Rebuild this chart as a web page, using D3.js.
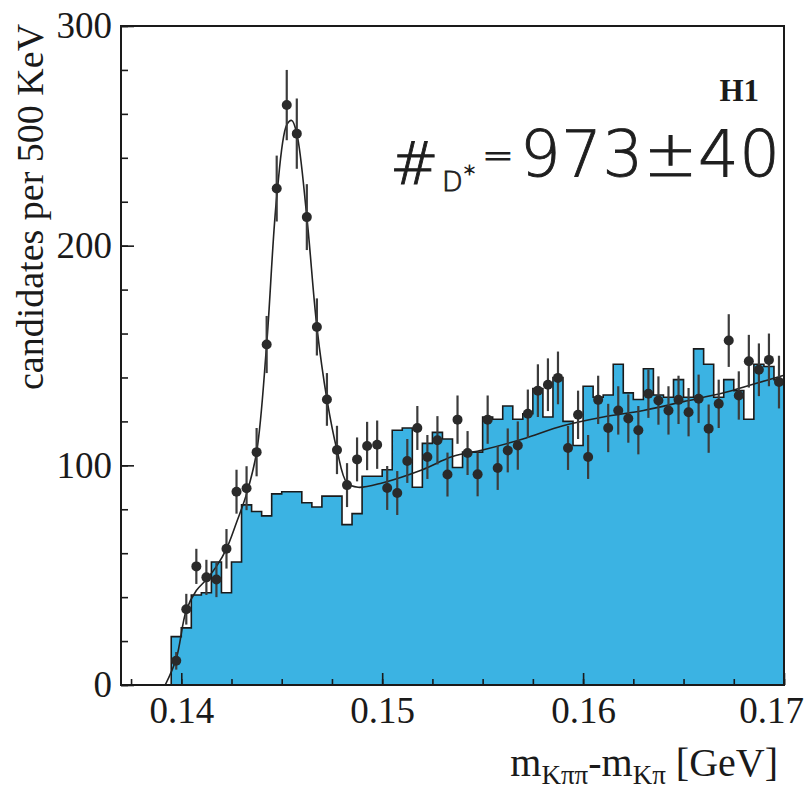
<!DOCTYPE html>
<html>
<head>
<meta charset="utf-8">
<title>D* candidates</title>
<script src="https://d3js.org/d3.v7.min.js"></script>
<style>
  body { margin: 0; background: #fff; }
</style>
</head>
<body>
<div id="chart"></div>
<script>
let w = 809, h = 793;

// bins of 500 KeV, first bin starts at 0.1395 GeV
let binStart = 0.1395;
let binWidth = 0.0005;

// data points (candidates per bin) and their errors
let dataValues = [11, 34.5, 54, 49, 48, 62, 88, 89.6, 106, 155,
                  226, 264, 251, 213, 163, 130, 107, 91, 102.7, 108.8,
                  109.4, 89.7, 87.4, 102, 117, 103.8, 111.4, 95.8, 120.8, 105.6,
                  95.9, 120.8, 98.8, 106.8, 109, 123.5, 134, 136.7, 139.8, 107.9,
                  123, 103.8, 129.8, 117, 125, 121.3, 116, 132.6, 129.5, 125,
                  129.8, 124.2, 130.3, 116.7, 128, 156.8, 131.8, 147.4, 143.5, 148,
                  137.9];
let dataErrors = [4, 7, 8, 8, 8, 9, 10, 10, 11, 13,
                  15, 16, 16, 15, 13, 12, 11, 10, 10, 11,
                  11, 10, 10, 10, 10, 10, 11, 10, 11, 10,
                  10, 11, 10, 10, 11, 11, 12, 12, 12, 10,
                  11, 10, 11, 11, 11, 11, 11, 11, 11, 11,
                  11, 11, 11, 11, 11, 12, 11, 12, 12, 12,
                  12];

// wrong-charge background histogram (blue)
let bgValues = [22, 26, 41, 42, 56, 42, 56, 82, 79, 77,
                87, 88, 88, 83, 81, 86, 86, 73, 78, 95,
                95, 98, 116, 117, 90, 110, 115, 112, 99, 106,
                106, 122, 121, 127, 121, 123.5, 135, 122, 140, 120,
                109, 136, 131, 132, 146, 133, 130, 144, 132, 131,
                139, 131, 153, 146, 131, 139, 134, 121, 146, 145,
                139];

// fit curve
let fitMass = [0.1392, 0.13975, 0.14025, 0.14075, 0.14125, 0.14175, 0.14225, 0.14275, 0.14325, 0.14375,
               0.14425, 0.14475, 0.14525, 0.1455, 0.14575, 0.14625, 0.14675, 0.14725, 0.14775, 0.14825,
               0.1488, 0.150, 0.152, 0.1535, 0.155, 0.157, 0.159, 0.161, 0.163, 0.165,
               0.167, 0.1685, 0.170];
let fitValues = [0, 12, 34, 43, 48, 54, 62, 74, 87, 106,
                 155, 222, 255, 257, 251, 213, 163, 130, 107, 92,
                 90, 92, 98, 104, 107, 112, 118, 122, 125, 129,
                 133, 137, 141];

let xTicks = [0.14, 0.15, 0.16, 0.17];
let xTickLabels = ["0.14", "0.15", "0.16", "0.17"];
let yTicks = [0, 100, 200, 300];
let yTickLabels = ["0", "100", "200", "300"];

let serif = "'Liberation Serif', 'Times New Roman', serif";

let xScale = d3.scaleLinear().domain([0.137, 0.17]).range([121, 784]);
let yScale = d3.scaleLinear().domain([0, 300]).range([685, 26]);

let svg = d3.select("#chart")
            .append("svg")
            .attr("width", w)
            .attr("height", h)
            .style("background", "#fff");

// histogram as steps
let bins = bgValues.map(function(v, i) {
    return {x: binStart + i * binWidth, v: v};
});
bins.push({x: binStart + bgValues.length * binWidth, v: bgValues[bgValues.length - 1]});

let area = d3.area()
    .curve(d3.curveStepAfter)
    .x(function(d) { return xScale(d.x); })
    .y0(yScale(0))
    .y1(function(d) { return yScale(d.v); });

svg.append("path")
    .datum(bins)
    .attr("d", area)
    .attr("fill", "#3bb3e3");

let outline = d3.line()
    .curve(d3.curveStepAfter)
    .x(function(d) { return xScale(d.x); })
    .y(function(d) { return yScale(d.v); });

svg.append("path")
    .datum([{x: binStart, v: 0}].concat(bins))
    .attr("d", outline)
    .attr("fill", "none")
    .attr("stroke", "#1a1a1a")
    .attr("stroke-width", 1.6);

// fit
let fit = fitMass.map(function(m, i) { return [m, fitValues[i]]; });
svg.append("path")
    .datum(fit)
    .attr("d", d3.line()
        .curve(d3.curveCatmullRom.alpha(0.5))
        .x(function(d) { return xScale(d[0]); })
        .y(function(d) { return yScale(d[1]); }))
    .attr("fill", "none")
    .attr("stroke", "#222")
    .attr("stroke-width", 1.6);

// data points with error bars
let points = dataValues.map(function(v, i) {
    return {x: binStart + (i + 0.5) * binWidth, v: v, e: dataErrors[i]};
});

svg.selectAll("line.err")
    .data(points)
    .enter()
    .append("line")
    .attr("class", "err")
    .attr("x1", function(d) { return xScale(d.x); })
    .attr("x2", function(d) { return xScale(d.x); })
    .attr("y1", function(d) { return yScale(d.v - d.e); })
    .attr("y2", function(d) { return yScale(d.v + d.e); })
    .attr("stroke", "#3c3c3c")
    .attr("stroke-width", 2.2);

svg.selectAll("circle")
    .data(points)
    .enter()
    .append("circle")
    .attr("cx", function(d) { return xScale(d.x); })
    .attr("cy", function(d) { return yScale(d.v); })
    .attr("r", 5)
    .attr("fill", "#2a2a2a");

// axes, ticks pointing inward
function styleAxis(g) {
    g.select(".domain").remove();
    g.selectAll("line").attr("stroke", "#1a1a1a").attr("stroke-width", 1.6);
    g.selectAll("text").attr("fill", "#1a1a1a");
    g.attr("font-family", serif).attr("font-size", 37);
}

let xMinor = d3.range(0.1375, 0.1701, 0.0025);
svg.append("g")
    .attr("transform", "translate(0," + yScale(0) + ")")
    .call(d3.axisBottom(xScale).tickValues(xMinor).tickSize(-6).tickFormat(""))
    .call(styleAxis);
let xAxis = svg.append("g")
    .attr("transform", "translate(0," + yScale(0) + ")")
    .call(d3.axisBottom(xScale).tickValues(xTicks).tickSize(-12).tickPadding(12)
        .tickFormat(function(d, i) { return xTickLabels[i]; }))
    .call(styleAxis);
// last label sits against the page edge
xAxis.selectAll("text").filter(function(d) { return d === 0.17; }).attr("dx", -13);

let yMinor = d3.range(0, 301, 20);
svg.append("g")
    .attr("transform", "translate(" + xScale(0.137) + ",0)")
    .call(d3.axisLeft(yScale).tickValues(yMinor).tickSize(-7).tickFormat(""))
    .call(styleAxis);
svg.append("g")
    .attr("transform", "translate(" + xScale(0.137) + ",0)")
    .call(d3.axisLeft(yScale).tickValues(yTicks).tickSize(-13).tickPadding(9)
        .tickFormat(function(d, i) { return yTickLabels[i]; }))
    .call(styleAxis);

// frame
svg.append("rect")
    .attr("x", xScale(0.137))
    .attr("y", yScale(300))
    .attr("width", xScale(0.17) - xScale(0.137))
    .attr("height", yScale(0) - yScale(300))
    .attr("fill", "none")
    .attr("stroke", "#1a1a1a")
    .attr("stroke-width", 2);

// axis titles
svg.append("text")
    .attr("transform", "translate(43,207) rotate(-90)")
    .attr("text-anchor", "middle")
    .attr("font-family", serif)
    .attr("font-size", 38)
    .attr("fill", "#1a1a1a")
    .text("candidates per 500 KeV");

let xt = svg.append("text")
    .attr("x", 778)
    .attr("y", 776)
    .attr("text-anchor", "end")
    .attr("font-family", serif)
    .attr("font-size", 40)
    .attr("fill", "#1a1a1a");
xt.append("tspan").text("m");
xt.append("tspan").attr("font-size", 27).attr("dy", 8).text("Kππ");
xt.append("tspan").attr("dy", -8).text("-m");
xt.append("tspan").attr("font-size", 27).attr("dy", 8).text("Kπ");
xt.append("tspan").attr("dy", -8).text(" [GeV]");

// labels inside the plot
svg.append("text")
    .attr("x", 759)
    .attr("y", 101)
    .attr("text-anchor", "end")
    .attr("font-family", serif)
    .attr("font-weight", "bold")
    .attr("font-size", 31)
    .attr("fill", "#1a1a1a")
    .text("H1");

// hand-written yield
let hand = svg.append("g")
    .attr("font-family", "'DejaVu Sans', sans-serif")
    .attr("font-weight", 200)
    .attr("fill", "#1e1e1e")
    .attr("stroke", "#1e1e1e")
    .attr("stroke-width", 0.9);
hand.append("text")
    .attr("x", 390).attr("y", 184)
    .attr("font-size", 58)
    .text("#");
hand.append("text")
    .attr("x", 442).attr("y", 191)
    .attr("font-size", 27)
    .text("D");
hand.append("text")
    .attr("x", 464).attr("y", 181)
    .attr("font-size", 22)
    .text("*");
hand.append("text")
    .attr("x", 482).attr("y", 168)
    .attr("font-size", 38)
    .text("=");
hand.append("text")
    .attr("x", 520).attr("y", 176)
    .attr("font-size", 64)
    .attr("textLength", 260).attr("lengthAdjust", "spacing")
    .text("973±40");
</script>
</body>
</html>
